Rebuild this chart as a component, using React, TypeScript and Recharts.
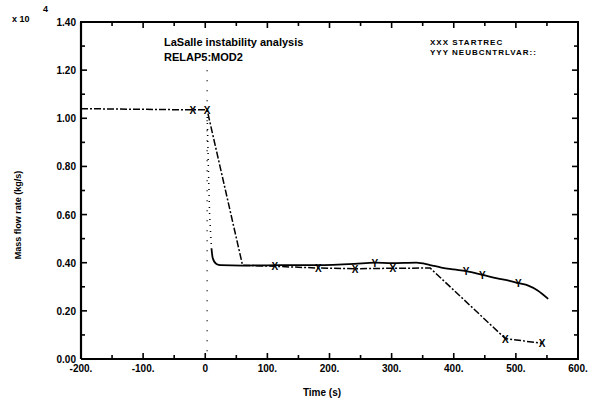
import React from 'react'
import { ComposedChart, Line, XAxis, YAxis } from 'recharts'

// XXX STARTREC
const startTime = [-200, -20, 3, 60, 112, 182, 241, 302, 362, 483, 542]
const startFlow = [1.04, 1.035, 1.035, 0.39, 0.385, 0.378, 0.375, 0.377, 0.378, 0.085, 0.065]
const startMarks = [-20, 3, 112, 182, 241, 302, 483, 542]

// YYY NEUBCNTRLVAR (dotted drop, then solid)
const neuDropTime = [3, 5, 7, 10]
const neuDropFlow = [1.03, 0.8, 0.6, 0.46]
const neuTime = [10, 12, 18, 25, 60, 120, 180, 240, 273, 300, 340, 362, 380, 400, 420, 446, 470, 490, 504, 520, 535, 552]
const neuFlow = [0.46, 0.42, 0.395, 0.39, 0.388, 0.39, 0.39, 0.395, 0.4, 0.398, 0.4, 0.39, 0.38, 0.372, 0.365, 0.35, 0.335, 0.325, 0.315, 0.305, 0.285, 0.25]
const neuMarks = [273, 386, 420, 446, 504]

// dotted marker at t = 0
const zeroTime = [3, 3]
const zeroFlow = [1.2, 0]

// plot frame along the axis limits
const frameTime = [-200, -200, 600, 600, -200]
const frameFlow = [0, 1.4, 1.4, 0, 0]

const xTicks = [-200, -150, -100, -50, 0, 50, 100, 150, 200, 250, 300, 350, 400, 450, 500, 550, 600]
const yTicks = [0, 0.1, 0.2, 0.3, 0.4, 0.5, 0.6, 0.7, 0.8, 0.9, 1.0, 1.1, 1.2, 1.3, 1.4]

const startData = startTime.map((t, i) => ({ t, v: startFlow[i] }))
const neuDropData = neuDropTime.map((t, i) => ({ t, v: neuDropFlow[i] }))
const neuData = neuTime.map((t, i) => ({ t, v: neuFlow[i] }))
const zeroData = zeroTime.map((t, i) => ({ t, v: zeroFlow[i] }))
const frameData = frameTime.map((t, i) => ({ t, v: frameFlow[i] }))

const font = '"Liberation Sans", Arial, sans-serif'

const isMajorX = (v: number) => v % 100 === 0
const isMajorY = (v: number) => Math.round(v * 10) % 2 === 0

const xLabel = (v: number) => (v === 0 ? '0' : `${v}.`)

const bottomTick = (props: any) => {
  const { x, y, payload, index } = props
  const v = payload.value
  return (
    <g key={`bt${index}`}>
      <line x1={x} x2={x} y1={y} y2={y - (isMajorX(v) ? 6 : 4)} stroke="#000" strokeWidth={1.6} />
      {isMajorX(v) && (
        <text x={x} y={y + 13} textAnchor="middle" fontSize={10} fontWeight="bold" fontFamily={font} fill="#000">
          {xLabel(v)}
        </text>
      )}
    </g>
  )
}

const topTick = (props: any) => {
  const { x, y, payload, index } = props
  return <line key={`tt${index}`} x1={x} x2={x} y1={y} y2={y + (isMajorX(payload.value) ? 6 : 4)} stroke="#000" strokeWidth={1.6} />
}

const leftTick = (props: any) => {
  const { x, y, payload, index } = props
  const v = payload.value
  return (
    <g key={`lt${index}`}>
      <line x1={x} x2={x + (isMajorY(v) ? 6 : 4)} y1={y} y2={y} stroke="#000" strokeWidth={1.6} />
      {isMajorY(v) && (
        <text x={x - 5} y={y + 4} textAnchor="end" fontSize={10} fontWeight="bold" fontFamily={font} fill="#000">
          {v.toFixed(2)}
        </text>
      )}
    </g>
  )
}

const rightTick = (props: any) => {
  const { x, y, payload, index } = props
  return <line key={`rt${index}`} x1={x} x2={x - (isMajorY(payload.value) ? 6 : 4)} y1={y} y2={y} stroke="#000" strokeWidth={1.6} />
}

const markerDot = (marks: number[], letter: string) => (props: any) => {
  const { cx, cy, payload, index } = props
  if (!marks.includes(payload.t)) return <g key={`m${index}`} />
  return (
    <text key={`m${index}`} x={cx} y={cy + 4} textAnchor="middle" fontSize={10} fontWeight="bold" fontFamily={font} fill="#000">
      {letter}
    </text>
  )
}

export default function App() {
  return (
    <div style={{ position: 'absolute', left: 0, top: 0 }}>
      <ComposedChart width={596} height={408} margin={{ top: 2, right: 0, bottom: 19, left: 41 }}>
        <XAxis xAxisId="b" type="number" dataKey="t" domain={[-200, 600]} ticks={xTicks} interval={0} height={30} tickSize={0} tickMargin={0} tickLine={false} tick={bottomTick} axisLine={{ stroke: '#000', strokeWidth: 2.2 }} />
        <XAxis xAxisId="top" orientation="top" type="number" dataKey="t" domain={[-200, 600]} ticks={xTicks} interval={0} height={20} tickSize={0} tickMargin={0} tickLine={false} tick={topTick} axisLine={{ stroke: '#000', strokeWidth: 1.8 }} />
        <YAxis yAxisId="l" type="number" domain={[0, 1.4]} ticks={yTicks} interval={0} width={40} tickSize={0} tickMargin={0} tickLine={false} tick={leftTick} axisLine={{ stroke: '#000', strokeWidth: 2.2 }} />
        <YAxis yAxisId="r" orientation="right" type="number" domain={[0, 1.4]} ticks={yTicks} interval={0} width={18} tickSize={0} tickMargin={0} tickLine={false} tick={rightTick} axisLine={{ stroke: '#000', strokeWidth: 1.8 }} />
        <Line xAxisId="top" yAxisId="r" data={frameData} dataKey="v" type="linear" stroke="#000" strokeWidth={2} dot={false} activeDot={false} isAnimationActive={false} />
        <Line xAxisId="top" yAxisId="r" data={zeroData} dataKey="v" type="linear" stroke="#000" strokeWidth={1.3} strokeDasharray="1 9" dot={false} activeDot={false} isAnimationActive={false} />
        <Line xAxisId="b" yAxisId="l" data={startData} dataKey="v" type="linear" stroke="#000" strokeWidth={1.5} strokeDasharray="7 2 2 2" dot={markerDot(startMarks, 'X')} activeDot={false} isAnimationActive={false} />
        <Line xAxisId="b" yAxisId="l" data={neuDropData} dataKey="v" type="linear" stroke="#000" strokeWidth={1.5} strokeDasharray="1 5" dot={false} activeDot={false} isAnimationActive={false} />
        <Line xAxisId="b" yAxisId="l" data={neuData} dataKey="v" type="monotone" stroke="#000" strokeWidth={1.8} dot={markerDot(neuMarks, 'Y')} activeDot={false} isAnimationActive={false} />
      </ComposedChart>
      <svg width={596} height={408} style={{ position: 'absolute', left: 0, top: 0, pointerEvents: 'none' }}>
        <text x={12} y={22} fontSize={9} fontWeight="bold" fontFamily={font}>x 10</text>
        <text x={43} y={12} fontSize={9} fontWeight="bold" fontFamily={font}>4</text>
        <text x={164} y={46} fontSize={11} fontWeight="bold" fontFamily={font}>LaSalle instability analysis</text>
        <text x={164} y={61} fontSize={11} fontWeight="bold" fontFamily={font}>RELAP5:MOD2</text>
        <text x={430} y={45} fontSize={8} fontWeight="bold" fontFamily={font} letterSpacing={1}>XXX  STARTREC</text>
        <text x={430} y={55} fontSize={8} fontWeight="bold" fontFamily={font} letterSpacing={1}>YYY  NEUBCNTRLVAR::</text>
        <text x={21} y={215} fontSize={9} fontWeight="bold" fontFamily={font} textAnchor="middle" transform="rotate(-90 21 215)">
          Mass flow rate (kg/s)
        </text>
        <text x={322} y={396} fontSize={10} fontWeight="bold" fontFamily={font} textAnchor="middle">Time (s)</text>
      </svg>
    </div>
  )
}
